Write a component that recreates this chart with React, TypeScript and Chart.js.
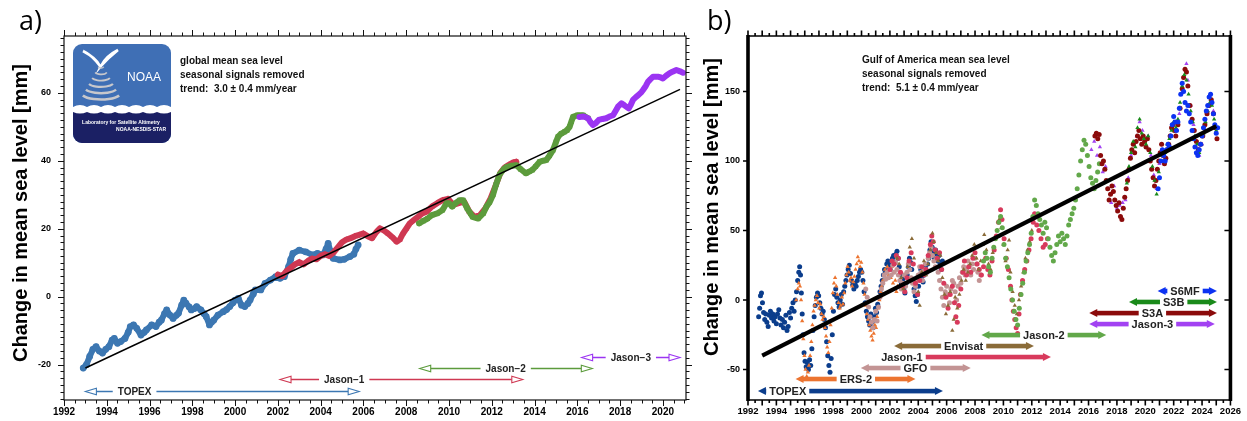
import React, { useEffect, useRef } from "react";
import { Chart, registerables } from "chart.js";
Chart.register(...registerables);

type P = [number, number];
const SANS = '"Liberation Sans", Arial, Helvetica, sans-serif';
const LABEL_FONT = '"Open Sans", "Noto Sans", sans-serif';

// ---------------- Panel a: global mean sea level ----------------
const A_X_MIN = 1992;
const A_X_MAX = 2021.08;
const A_Y_MIN = -30.4;
const A_Y_MAX = 76.7;
const A_X_TICKS = [1992, 1994, 1996, 1998, 2000, 2002, 2004, 2006, 2008, 2010, 2012, 2014, 2016, 2018, 2020];
const A_Y_TICKS = [-20, 0, 20, 40, 60];
const A_NOTES = ["global mean sea level", "seasonal signals removed", "trend:  3.0 \u00b1 0.4 mm/year"];

const A_TOPEX: P[] = [
  [1992.9, -21], [1993.05, -20], [1993.2, -17.6], [1993.35, -15.5], [1993.5, -14.7], [1993.65, -16],
  [1993.8, -16.6], [1993.95, -15.5], [1994.1, -14.7], [1994.25, -12.8], [1994.35, -12.3], [1994.5, -13.7],
  [1994.65, -13.2], [1994.85, -12.3], [1995.0, -10.5], [1995.1, -8.8], [1995.25, -8.3], [1995.4, -9.3],
  [1995.6, -11.3], [1995.75, -10.5], [1995.85, -9.8], [1996.1, -8.3], [1996.3, -8.8], [1996.45, -7.5],
  [1996.55, -6.9], [1996.7, -5], [1996.8, -3.9], [1996.95, -5.4], [1997.1, -6.4], [1997.25, -5.5],
  [1997.35, -4.9], [1997.5, -2.5], [1997.6, -1], [1997.7, -1.9], [1997.85, -3], [1997.95, -3.9],
  [1998.1, -3.5], [1998.2, -2.9], [1998.4, -3.9], [1998.55, -5], [1998.65, -5.9], [1998.8, -8.3],
  [1998.9, -7.5], [1999.0, -6.9], [1999.2, -5.4], [1999.45, -4.4], [1999.6, -3.8], [1999.75, -2.9],
  [1999.9, -1.8], [2000.0, -1], [2000.15, -0.5], [2000.3, -2.5], [2000.45, -2.9], [2000.6, -2],
  [2000.7, -1], [2000.85, 0.8], [2000.95, 2.0], [2001.2, 2], [2001.4, 3.9], [2001.65, 4.9],
  [2001.9, 5.9], [2002.1, 5.4], [2002.3, 5.9], [2002.5, 8.8], [2002.6, 11], [2002.7, 12.7],
  [2003.0, 13.7], [2003.3, 13.2], [2003.6, 12.3], [2003.85, 12.7], [2004.1, 12.3], [2004.25, 14],
  [2004.35, 15.7], [2004.45, 13.5], [2004.58, 11.3], [2004.9, 10.8], [2005.1, 11], [2005.37, 11.8],
  [2005.55, 12.5], [2005.65, 14], [2005.75, 15.2],
];
const A_JASON1: P[] = [
  [2002.0, 6.5], [2002.2, 6], [2002.4, 7.5], [2002.6, 8.5], [2002.8, 9.5], [2003.0, 10.2], [2003.2, 9.5],
  [2003.4, 10.5], [2003.6, 11.2], [2003.8, 11], [2004.0, 12], [2004.2, 12.5], [2004.4, 12], [2004.6, 13],
  [2004.8, 14.5], [2005.0, 16], [2005.2, 16.8], [2005.4, 17.2], [2005.6, 17.8], [2005.8, 18.2],
  [2006.0, 18.6], [2006.2, 17.8], [2006.4, 17.2], [2006.6, 19], [2006.77, 20.1], [2006.95, 19.5],
  [2007.15, 18.6], [2007.35, 17.5], [2007.55, 16.2], [2007.7, 16.8], [2007.85, 18.6], [2008.0, 20],
  [2008.17, 21.6], [2008.35, 22.5], [2008.55, 23.5], [2008.75, 24.5], [2008.95, 25], [2009.2, 26.5],
  [2009.45, 27.5], [2009.7, 28.4], [2009.95, 28.8], [2010.2, 27], [2010.45, 27.5], [2010.7, 28],
  [2010.95, 25], [2011.2, 23.5], [2011.45, 24], [2011.7, 26], [2011.95, 29], [2012.2, 33],
  [2012.4, 36.4], [2012.6, 38], [2012.8, 38.8], [2013.0, 39.5], [2013.15, 39.7],
];
const A_JASON2: P[] = [
  [2008.6, 21.6], [2008.8, 22.3], [2009.0, 23], [2009.2, 24], [2009.45, 24.5], [2009.7, 25.5],
  [2009.88, 27.5], [2010.0, 27.5], [2010.15, 26.5], [2010.3, 27.5], [2010.5, 28.4], [2010.66, 28.4],
  [2010.85, 26], [2011.0, 24.5], [2011.1, 23.5], [2011.36, 23], [2011.6, 24.5], [2011.75, 26.5],
  [2011.9, 27.8], [2012.06, 30], [2012.2, 33], [2012.37, 36], [2012.55, 37.5], [2012.7, 38.2],
  [2012.9, 38.5], [2013.15, 38.7], [2013.35, 37.5], [2013.6, 36.3], [2013.75, 36.8], [2013.9, 37.3],
  [2014.05, 38.3], [2014.24, 39.7], [2014.4, 40], [2014.55, 40.2], [2014.7, 41.5], [2014.86, 43.1],
  [2015.0, 45.5], [2015.1, 47.1], [2015.25, 48], [2015.4, 48.5], [2015.52, 49], [2015.64, 50],
  [2015.72, 51.5], [2015.8, 52.9], [2016.0, 53.4], [2016.27, 53.4], [2016.5, 52.5],
];
const A_JASON3: P[] = [
  [2016.1, 52.9], [2016.3, 53], [2016.5, 52.5], [2016.62, 51.3], [2016.73, 50.5], [2016.85, 51],
  [2017.0, 52], [2017.18, 52.3], [2017.35, 52.5], [2017.5, 53], [2017.67, 53.4], [2017.8, 54.8],
  [2017.9, 55.9], [2018.06, 56.9], [2018.2, 56.3], [2018.4, 55.4], [2018.5, 56.5], [2018.6, 57.9],
  [2018.75, 58.8], [2018.85, 59.3], [2019.0, 60.2], [2019.07, 60.8], [2019.2, 62], [2019.3, 63.2],
  [2019.42, 64], [2019.54, 64.7], [2019.67, 64.7], [2019.8, 64.7], [2019.9, 64.5], [2020.0, 64.2],
  [2020.15, 65], [2020.3, 65.7], [2020.45, 66.2], [2020.63, 66.7], [2020.8, 66.3], [2020.94, 65.9],
];
const A_TREND: P[] = [[1993.0, -21], [2020.8, 61]];

const A_MISSIONS = ["TOPEX", "Jason\u22121", "Jason\u22122", "Jason\u22123"];
const A_MISSION_START = [1993.0, 2002.1, 2008.63, 2016.2];
const A_MISSION_END = [2005.8, 2013.45, 2016.7, 2020.8];
const A_MISSION_LABEL_AT = [1995.3, 2005.1, 2012.65, 2018.5];
const A_MISSION_LEVEL = [-27.7, -24.2, -21, -17.7];
const A_COLORS = ["#3c77b2", "#cf3852", "#5c9b3c", "#9b34f2"];

// ---------------- Panel b: Gulf of America ----------------
const B_X_MIN = 1992;
const B_X_MAX = 2026;
const B_Y_MIN = -71.9;
const B_Y_MAX = 189.9;
const B_X_TICKS = [1992, 1994, 1996, 1998, 2000, 2002, 2004, 2006, 2008, 2010, 2012, 2014, 2016, 2018, 2020, 2022, 2024, 2026];
const B_Y_TICKS = [-50, 0, 50, 100, 150];
const B_NOTES = ["Gulf of America mean sea level", "seasonal signals removed", "trend:  5.1 \u00b1 0.4 mm/year"];

const B_TOPEX: P[] = [
  [1992.75, -12], [1992.82, -6], [1992.88, 3], [1992.95, 5], [1993.02, -2], [1993.1, -9], [1993.18, -14],
  [1993.25, -10], [1993.33, -16], [1993.42, -19], [1993.5, -11], [1993.58, -8], [1993.66, -13], [1993.75, -10],
  [1993.83, -15], [1993.92, -12], [1994.0, -17], [1994.08, -10], [1994.17, -7], [1994.25, -13], [1994.33, -18],
  [1994.42, -14], [1994.5, -20], [1994.58, -16], [1994.67, -11], [1994.75, -22], [1994.83, -19], [1994.92, -9],
  [1995.0, -13], [1995.08, -6], [1995.17, -2], [1995.25, -8], [1995.33, 0], [1995.42, 6], [1995.5, 14],
  [1995.58, 20], [1995.64, 24], [1995.7, 18], [1995.76, 5], [1995.82, -10], [1995.88, -25], [1995.95, -38],
  [1996.02, -44], [1996.1, -48], [1996.18, -45], [1996.26, -50], [1996.34, -43], [1996.42, -47], [1996.5, -35],
  [1996.58, -22], [1996.66, -12], [1996.74, -4], [1996.82, 2], [1996.9, 5], [1996.98, 3], [1997.06, -2],
  [1997.14, -6], [1997.22, -10], [1997.3, -8], [1997.38, -14], [1997.46, -20], [1997.54, -30], [1997.62, -40],
  [1997.7, -47], [1997.78, -52], [1997.86, -42], [1997.94, -25], [1998.02, -8], [1998.1, 4], [1998.18, 8],
  [1998.26, 2], [1998.34, -2], [1998.42, -5], [1998.5, 0], [1998.58, 4], [1998.66, -3], [1998.74, 6],
  [1998.82, 10], [1998.9, 14], [1998.98, 18], [1999.06, 22], [1999.14, 25], [1999.22, 19], [1999.3, 14],
  [1999.38, 11], [1999.46, 8], [1999.54, 12], [1999.62, 10], [1999.7, 14], [1999.78, 17], [1999.86, 20],
  [1999.94, 22], [2000.02, 20], [2000.1, 14], [2000.18, 6], [2000.26, -2], [2000.34, -8], [2000.42, -12],
  [2000.5, -15], [2000.58, -18], [2000.66, -10], [2000.74, -16], [2000.82, -20], [2000.9, -12], [2000.98, -6],
  [2001.06, -9], [2001.14, -3], [2001.22, 2], [2001.3, 6], [2001.38, 10], [2001.46, 14], [2001.54, 18],
  [2001.62, 22], [2001.7, 20], [2001.78, 26], [2001.86, 28], [2001.94, 24], [2002.02, 22], [2002.1, 26],
  [2002.18, 30], [2002.26, 32], [2002.34, 27], [2002.42, 33], [2002.5, 35], [2002.58, 30], [2002.66, 24],
  [2002.74, 18], [2002.82, 12], [2002.9, 15], [2002.98, 8], [2003.06, 5], [2003.14, 12], [2003.22, 18],
  [2003.3, 24], [2003.38, 30], [2003.46, 27], [2003.54, 22], [2003.62, 15], [2003.7, 8], [2003.78, 3],
  [2003.86, -1], [2003.94, 4], [2004.02, 10], [2004.1, 18], [2004.18, 22], [2004.26, 17], [2004.34, 13],
  [2004.42, 18], [2004.5, 24], [2004.58, 20], [2004.66, 26], [2004.74, 30], [2004.82, 36], [2004.9, 42],
  [2004.98, 38], [2005.06, 34], [2005.14, 30], [2005.22, 36], [2005.3, 33], [2005.38, 28], [2005.46, 32],
  [2005.54, 26], [2005.62, 22], [2005.7, 28],
];
const B_ERS2: P[] = [
  [1995.4, 0], [1995.5, 8], [1995.58, 12], [1995.66, 10], [1995.74, 0], [1995.82, -15], [1995.9, -28],
  [1995.98, -40], [1996.06, -50], [1996.14, -55], [1996.22, -52], [1996.3, -47], [1996.38, -40], [1996.46, -30],
  [1996.54, -18], [1996.62, -8], [1996.7, -4], [1996.78, 0], [1996.86, 3], [1996.94, -2], [1997.02, -6],
  [1997.1, -3], [1997.18, -10], [1997.26, -14], [1997.34, -12], [1997.42, -20], [1997.5, -26], [1997.58, -34],
  [1997.66, -38], [1997.74, -30], [1997.82, -18], [1997.9, -6], [1997.98, 5], [1998.06, 12], [1998.14, 16],
  [1998.22, 10], [1998.3, 4], [1998.38, -2], [1998.46, -6], [1998.54, -4], [1998.62, 2], [1998.7, -3],
  [1998.78, 5], [1998.86, 12], [1998.94, 18], [1999.02, 24], [1999.1, 20], [1999.18, 14], [1999.26, 16],
  [1999.34, 10], [1999.42, 13], [1999.5, 17], [1999.58, 22], [1999.66, 26], [1999.74, 31], [1999.82, 28],
  [1999.9, 24], [1999.98, 27], [2000.06, 20], [2000.14, 12], [2000.22, 4], [2000.3, -4], [2000.38, -10],
  [2000.46, -14], [2000.54, -18], [2000.62, -22], [2000.7, -26], [2000.78, -29], [2000.86, -24], [2000.94, -18],
  [2001.02, -20], [2001.1, -12], [2001.18, -6], [2001.26, 0], [2001.34, 6], [2001.42, 10], [2001.5, 14],
  [2001.58, 18], [2001.66, 22], [2001.74, 20], [2001.82, 24], [2001.9, 18], [2001.98, 22], [2002.06, 16],
  [2002.14, 24], [2002.22, 12], [2002.3, 8], [2002.38, 14], [2002.46, 6], [2002.54, 10],
];
const B_GFO: P[] = [
  [2000.3, 8], [2000.4, 2], [2000.5, -5], [2000.6, -12], [2000.7, -16], [2000.8, -20], [2000.9, -14],
  [2001.0, -8], [2001.1, -15], [2001.2, -5], [2001.3, 2], [2001.4, 8], [2001.5, 12], [2001.6, 18],
  [2001.7, 15], [2001.8, 20], [2001.9, 16], [2002.0, 22], [2002.1, 18], [2002.2, 25], [2002.3, 20],
  [2002.4, 27], [2002.5, 22], [2002.6, 18], [2002.7, 14], [2002.8, 8], [2002.9, 12], [2003.0, 18],
  [2003.1, 10], [2003.2, 20], [2003.3, 26], [2003.4, 22], [2003.5, 16], [2003.6, 12], [2003.7, 6],
  [2003.8, 10], [2003.9, 14], [2004.0, 18], [2004.1, 24], [2004.2, 20], [2004.3, 14], [2004.4, 22],
  [2004.5, 26], [2004.6, 20], [2004.7, 30], [2004.8, 34], [2004.9, 38], [2005.0, 32], [2005.1, 28],
  [2005.2, 24], [2005.3, 30], [2005.4, 20], [2005.5, 14], [2005.6, 8], [2005.7, 2], [2005.8, -4],
  [2005.9, 6], [2006.0, 10], [2006.1, 4], [2006.2, -2], [2006.3, 8], [2006.4, 14], [2006.5, 12],
  [2006.6, 6], [2006.7, 0], [2006.8, 10], [2006.9, 16], [2007.0, 12], [2007.1, 20], [2007.2, 24],
  [2007.3, 18], [2007.4, 22], [2007.5, 28], [2007.6, 24], [2007.7, 18], [2007.8, 26], [2007.9, 22],
  [2008.0, 30], [2008.1, 26], [2008.2, 20], [2008.3, 14], [2008.4, 18],
];
const B_JASON1: P[] = [
  [2002.0, 22], [2002.15, 28], [2002.3, 26], [2002.45, 32], [2002.6, 30], [2002.75, 20], [2002.9, 10],
  [2003.05, 6], [2003.2, 16], [2003.35, 28], [2003.5, 34], [2003.65, 26], [2003.8, 12], [2003.95, 4],
  [2004.1, 14], [2004.25, 24], [2004.4, 18], [2004.55, 22], [2004.7, 32], [2004.85, 40], [2004.95, 46],
  [2005.05, 42], [2005.2, 36], [2005.35, 30], [2005.5, 34], [2005.65, 22], [2005.8, 12], [2005.95, 2],
  [2006.1, -6], [2006.25, 4], [2006.4, 10], [2006.55, -2], [2006.65, -12], [2006.75, -16], [2006.85, -4],
  [2007.0, 8], [2007.15, 20], [2007.25, 28], [2007.4, 18], [2007.55, 24], [2007.7, 20], [2007.85, 30],
  [2008.0, 34], [2008.15, 26], [2008.3, 22], [2008.45, 18], [2008.6, 24], [2008.75, 30], [2008.9, 22],
  [2009.05, 18], [2009.2, 28], [2009.35, 36], [2009.5, 46], [2009.65, 56], [2009.8, 65], [2009.9, 58],
  [2010.05, 44], [2010.2, 30], [2010.35, 22], [2010.5, 10], [2010.6, 0], [2010.7, -8], [2010.8, -14],
  [2010.9, -20], [2011.0, -24], [2011.1, -10], [2011.2, 4], [2011.35, 14], [2011.5, 22], [2011.65, 28],
  [2011.8, 36], [2011.95, 44], [2012.1, 56], [2012.2, 62], [2012.35, 54], [2012.5, 50], [2012.65, 44],
  [2012.8, 38], [2012.95, 40], [2013.1, 44],
];
const B_ENVISAT: P[] = [
  [2002.5, 30], [2002.65, 26], [2002.8, 16], [2002.95, 8], [2003.1, 12], [2003.25, 24], [2003.4, 38],
  [2003.55, 44], [2003.7, 30], [2003.85, 16], [2004.0, 6], [2004.1, -4], [2004.25, 20], [2004.4, 28],
  [2004.55, 18], [2004.7, 26], [2004.85, 36], [2005.0, 48], [2005.1, 42], [2005.25, 34], [2005.4, 28],
  [2005.55, 32], [2005.7, 16], [2005.85, 4], [2005.95, -10], [2006.1, -4], [2006.25, 6], [2006.4, -22],
  [2006.5, -14], [2006.6, 2], [2006.75, -6], [2006.9, 4], [2007.05, 14], [2007.2, 22], [2007.35, 14],
  [2007.5, 20], [2007.65, 26], [2007.8, 32], [2007.95, 40], [2008.1, 30], [2008.25, 22], [2008.4, 28],
  [2008.55, 40], [2008.65, 47], [2008.8, 36], [2008.95, 26], [2009.1, 22], [2009.25, 34], [2009.4, 44],
  [2009.55, 50], [2009.7, 58], [2009.85, 52], [2010.0, 40], [2010.15, 28], [2010.3, 36], [2010.4, 43],
  [2010.5, 20], [2010.65, 6], [2010.8, -4], [2010.95, -10], [2011.1, 0], [2011.25, 10], [2011.4, 20],
  [2011.55, 30], [2011.7, 36], [2011.85, 42], [2012.0, 50],
];
const B_JASON2: P[] = [
  [2008.6, 28], [2008.72, 34], [2008.84, 30], [2008.96, 24], [2009.08, 20], [2009.2, 30], [2009.32, 38],
  [2009.44, 44], [2009.56, 50], [2009.68, 56], [2009.8, 60], [2009.92, 52], [2010.04, 40], [2010.16, 30],
  [2010.28, 24], [2010.4, 16], [2010.52, 8], [2010.64, 0], [2010.76, -8], [2010.88, -14], [2011.0, -18],
  [2011.12, -6], [2011.24, 4], [2011.36, 12], [2011.48, 20], [2011.6, 28], [2011.72, 34], [2011.84, 40],
  [2011.96, 48], [2012.08, 60], [2012.2, 72], [2012.32, 68], [2012.44, 62], [2012.56, 58], [2012.68, 54],
  [2012.8, 48], [2012.92, 56], [2013.04, 52], [2013.16, 44], [2013.28, 38], [2013.4, 32], [2013.52, 28],
  [2013.64, 34], [2013.76, 40], [2013.88, 46], [2014.0, 42], [2014.12, 48], [2014.24, 44], [2014.36, 40],
  [2014.48, 46], [2014.6, 54], [2014.72, 58], [2014.84, 62], [2014.96, 66], [2015.08, 72], [2015.2, 80],
  [2015.32, 90], [2015.44, 100], [2015.56, 108], [2015.68, 115], [2015.8, 112], [2015.92, 104],
  [2016.04, 96], [2016.16, 88], [2016.28, 84], [2016.4, 80], [2016.52, 86], [2016.64, 92], [2016.76, 98],
];
const B_JASON3: P[] = [
  [2016.2, 108], [2016.4, 114], [2016.6, 104], [2016.8, 110], [2017.0, 92], [2017.2, 96], [2017.4, 80],
  [2017.6, 70], [2017.8, 82], [2018.0, 66], [2018.2, 68], [2018.4, 70], [2018.6, 72], [2018.8, 88],
  [2019.0, 104], [2019.2, 112], [2019.4, 118], [2019.6, 128], [2019.8, 122], [2020.0, 116], [2020.2, 118],
  [2020.4, 104], [2020.6, 90], [2020.8, 80], [2021.0, 98], [2021.2, 108], [2021.4, 102], [2021.6, 108],
  [2021.8, 118], [2022.0, 128], [2022.2, 122], [2022.4, 134], [2022.6, 152], [2022.8, 166], [2022.9, 170],
  [2023.0, 158], [2023.2, 140], [2023.4, 126], [2023.6, 110], [2023.8, 104], [2024.0, 112], [2024.2, 122],
  [2024.4, 136], [2024.6, 144], [2024.8, 136], [2025.0, 120],
];
const B_S3A: P[] = [
  [2016.45, 118], [2016.55, 120], [2016.65, 116], [2016.75, 119], [2016.85, 104], [2016.95, 98],
  [2017.05, 100], [2017.15, 94], [2017.25, 86], [2017.35, 80], [2017.45, 72], [2017.55, 76], [2017.65, 82],
  [2017.75, 78], [2017.85, 72], [2017.95, 68], [2018.05, 64], [2018.15, 70], [2018.25, 60], [2018.35, 58],
  [2018.45, 66], [2018.55, 74], [2018.65, 80], [2018.75, 86], [2018.85, 94], [2018.95, 102], [2019.05, 108],
  [2019.15, 112], [2019.25, 106], [2019.35, 114], [2019.45, 118], [2019.55, 122], [2019.65, 116],
  [2019.75, 112], [2019.85, 118], [2019.95, 114], [2020.05, 110], [2020.15, 116], [2020.25, 108],
  [2020.35, 100], [2020.45, 94], [2020.55, 88], [2020.65, 82], [2020.75, 86], [2020.85, 94], [2020.95, 100],
  [2021.05, 106], [2021.15, 112], [2021.25, 104], [2021.35, 98], [2021.45, 102], [2021.55, 108],
  [2021.65, 112], [2021.75, 118], [2021.85, 124], [2021.95, 126], [2022.05, 122], [2022.15, 118],
  [2022.3, 126], [2022.45, 138], [2022.6, 152], [2022.7, 160], [2022.8, 166], [2022.9, 164], [2023.0, 154],
  [2023.15, 140], [2023.3, 130], [2023.45, 122], [2023.6, 114], [2023.75, 108], [2023.9, 112],
  [2024.05, 118], [2024.2, 126], [2024.35, 134], [2024.5, 140], [2024.65, 144], [2024.8, 134],
  [2024.95, 124], [2025.05, 116],
];
const B_S3B: P[] = [
  [2018.7, 84], [2018.85, 96], [2019.0, 106], [2019.15, 114], [2019.3, 110], [2019.45, 124], [2019.6, 130],
  [2019.75, 120], [2019.9, 116], [2020.05, 112], [2020.2, 118], [2020.35, 106], [2020.5, 96], [2020.65, 86],
  [2020.8, 76], [2020.95, 92], [2021.1, 104], [2021.25, 100], [2021.4, 106], [2021.55, 112], [2021.7, 116],
  [2021.85, 122], [2022.0, 128], [2022.15, 124], [2022.3, 130], [2022.45, 142], [2022.6, 154],
  [2022.75, 162], [2022.9, 158], [2023.05, 148], [2023.2, 136], [2023.35, 128], [2023.5, 118],
  [2023.65, 112], [2023.8, 106], [2023.95, 112], [2024.1, 120], [2024.25, 128], [2024.4, 136],
  [2024.55, 142], [2024.7, 140], [2024.85, 130], [2025.0, 122],
];
const B_S6MF: P[] = [
  [2020.9, 80], [2021.0, 88], [2021.1, 100], [2021.2, 108], [2021.3, 104], [2021.4, 100], [2021.5, 108],
  [2021.6, 112], [2021.7, 110], [2021.8, 118], [2021.9, 126], [2022.0, 132], [2022.1, 128], [2022.2, 122],
  [2022.3, 128], [2022.4, 138], [2022.5, 148], [2022.6, 156], [2022.7, 150], [2022.8, 142], [2022.9, 136],
  [2023.0, 140], [2023.1, 134], [2023.2, 128], [2023.3, 122], [2023.4, 116], [2023.5, 110], [2023.6, 106],
  [2023.7, 104], [2023.8, 108], [2023.9, 112], [2024.0, 118], [2024.1, 124], [2024.2, 130], [2024.3, 136],
  [2024.4, 140], [2024.5, 146], [2024.6, 148], [2024.7, 142], [2024.8, 134], [2024.9, 126], [2025.0, 120],
  [2025.1, 124],
];
const B_TREND: P[] = [[1993.0, -40], [2025.0, 125]];

const B_MISSIONS = ["TOPEX", "ERS-2", "GFO", "Jason-1", "Envisat", "Jason-2", "Jason-3", "S3A", "S3B", "S6MF"];
const B_SERIES = [B_TOPEX, B_ERS2, B_GFO, B_JASON1, B_ENVISAT, B_JASON2, B_JASON3, B_S3A, B_S3B, B_S6MF];
const B_COLORS = ["#0b3d8c", "#ec7430", "#c39494", "#d83a5c", "#8a6b38", "#62a84a", "#a242f2", "#8b0b0b", "#1a8a1a", "#0c32f2"];
const B_MARKERS = ["circle", "triangle", "circle", "circle", "triangle", "circle", "triangle", "circle", "triangle", "circle"];
const B_MISSION_START = [1992.7, 1995.35, 1999.95, 2002.0, 2002.3, 2008.45, 2016.05, 2016.05, 2018.85, 2020.87];
const B_MISSION_END = [2005.74, 2003.8, 2007.7, 2013.35, 2012.15, 2017.25, 2024.9, 2025.05, 2025.05, 2025.05];
const B_MISSION_LABEL_AT = [1994.8, 1999.6, 2003.8, 2002.85, 2007.2, 2012.85, 2020.5, 2020.5, 2022.0, 2022.8];
const B_MISSION_LEVEL = [-65.5, -56.8, -48.9, -41, -33.1, -25.2, -17.3, -9.4, -1.4, 6.5];

const xy = (arr: P[]) => arr.map(([x, y]) => ({ x, y }));

// ---------------- drawing helpers ----------------
function drawYTitle(ctx: CanvasRenderingContext2D, x: number, y: number) {
  ctx.save();
  ctx.translate(x, y);
  ctx.rotate(-Math.PI / 2);
  ctx.font = `bold 20px ${SANS}`;
  ctx.fillStyle = "#000";
  ctx.textAlign = "center";
  ctx.textBaseline = "middle";
  ctx.fillText("Change in mean sea level [mm]", 0, 0);
  ctx.restore();
}

function drawLogo(ctx: CanvasRenderingContext2D) {
  const x = 73, y = 44, w = 98, h = 99;
  ctx.save();
  ctx.beginPath();
  (ctx as any).roundRect(x, y, w, h, 9);
  ctx.clip();
  ctx.fillStyle = "#3f6fb5";
  ctx.fillRect(x, y, w, h);
  ctx.fillStyle = "#1b2064";
  ctx.fillRect(x, y + 66, w, h - 66);
  ctx.fillStyle = "#ffffff";
  ctx.beginPath();
  ctx.moveTo(x, y + 63);
  for (let i = 0; i < 7; i++) {
    const cx = x + i * 14;
    ctx.quadraticCurveTo(cx + 7, y + 59, cx + 14, y + 63);
  }
  ctx.lineTo(x + w, y + 68);
  for (let i = 6; i >= 0; i--) {
    const cx = x + i * 14;
    ctx.quadraticCurveTo(cx + 7, y + 71, cx, y + 68);
  }
  ctx.closePath();
  ctx.fill();
  ctx.beginPath();
  ctx.moveTo(83, 51);
  ctx.quadraticCurveTo(92, 55, 100, 66);
  ctx.quadraticCurveTo(96, 58, 83, 51);
  ctx.moveTo(118, 50);
  ctx.quadraticCurveTo(106, 56, 101, 66);
  ctx.quadraticCurveTo(108, 58, 118, 50);
  ctx.lineWidth = 2.6;
  ctx.strokeStyle = "#ffffff";
  ctx.stroke();
  ctx.fill();
  ctx.strokeStyle = "#c8c8cc";
  for (let i = 0; i < 6; i++) {
    ctx.lineWidth = 1.4 + i * 0.25;
    ctx.beginPath();
    ctx.ellipse(101, 66 + i * 5.4, 3 + i * 3.3, 2 + i * 0.9, 0, 0.12 * Math.PI, 0.88 * Math.PI);
    ctx.stroke();
  }
  ctx.fillStyle = "#ffffff";
  ctx.textAlign = "center";
  ctx.textBaseline = "middle";
  ctx.font = `12px ${SANS}`;
  ctx.fillText("NOAA", 144, 78);
  ctx.font = `bold 5px ${SANS}`;
  ctx.fillText("Laboratory for Satellite Altimetry", 121, 123);
  ctx.textAlign = "right";
  ctx.fillText("NOAA-NESDIS-STAR", 166, 130);
  ctx.restore();
}

function drawNotes(ctx: CanvasRenderingContext2D, lines: string[], x: number, y0: number) {
  ctx.save();
  ctx.font = `bold 10px ${SANS}`;
  ctx.fillStyle = "#111";
  ctx.textAlign = "left";
  ctx.textBaseline = "middle";
  lines.forEach((t, i) => ctx.fillText(t, x, y0 + i * 14.3));
  ctx.restore();
}

function drawPanelLabel(ctx: CanvasRenderingContext2D, t: string, x: number, y: number) {
  ctx.save();
  ctx.font = `27px ${LABEL_FONT}`;
  ctx.fillStyle = "#000";
  ctx.textAlign = "left";
  ctx.textBaseline = "alphabetic";
  ctx.fillText(t, x, y);
  ctx.restore();
}

// ---------------- plugins ----------------
const decorA = {
  id: "decorA",
  afterDraw(chart: any) {
    const { ctx, chartArea: a, scales } = chart;
    const sx = scales.x, sy = scales.y;
    ctx.save();
    ctx.strokeStyle = "#111";
    ctx.lineWidth = 1.2;
    ctx.strokeRect(a.left, a.top, a.right - a.left, a.bottom - a.top);
    ctx.lineWidth = 1;
    for (let v = A_X_MIN; v <= A_X_MAX + 1e-6; v += 0.5) {
      const px = Math.round(sx.getPixelForValue(v)) + 0.5;
      const major = Math.abs(v % 2) < 1e-6;
      const L = major ? 6 : 3.5;
      ctx.beginPath();
      ctx.moveTo(px, a.bottom); ctx.lineTo(px, a.bottom + L);
      ctx.moveTo(px, a.top); ctx.lineTo(px, a.top - L);
      ctx.stroke();
    }
    for (let v = -30; v <= A_Y_MAX; v += 2) {
      const py = Math.round(sy.getPixelForValue(v)) + 0.5;
      const major = Math.abs(v % 20) < 1e-6;
      const L = major ? 6 : 3.5;
      ctx.beginPath();
      ctx.moveTo(a.left, py); ctx.lineTo(a.left - L, py);
      ctx.moveTo(a.right, py); ctx.lineTo(a.right + L, py);
      ctx.stroke();
    }
    ctx.font = `bold 10px ${SANS}`;
    ctx.textBaseline = "middle";
    ctx.textAlign = "center";
    A_MISSIONS.forEach((name, i) => {
      const color = A_COLORS[i];
      const y = Math.round(sy.getPixelForValue(A_MISSION_LEVEL[i])) + 0.5;
      const x0 = sx.getPixelForValue(A_MISSION_START[i]);
      const x1 = sx.getPixelForValue(A_MISSION_END[i]);
      const xc = sx.getPixelForValue(A_MISSION_LABEL_AT[i]);
      const tw = ctx.measureText(name).width;
      const g0 = xc - tw / 2 - 5, g1 = xc + tw / 2 + 5;
      const HL = 11, HH = 3.2;
      ctx.strokeStyle = color;
      ctx.lineWidth = 1.6;
      ctx.beginPath();
      ctx.moveTo(x0 + HL, y); ctx.lineTo(g0, y);
      ctx.moveTo(g1, y); ctx.lineTo(x1 - HL, y);
      ctx.stroke();
      ctx.lineWidth = 1.1;
      [[x0, -1], [x1, 1]].forEach(([tip, dir]) => {
        ctx.beginPath();
        ctx.moveTo(tip, y);
        ctx.lineTo(tip - dir * HL, y - HH);
        ctx.lineTo(tip - dir * HL, y + HH);
        ctx.closePath();
        ctx.fillStyle = "#fff";
        ctx.fill();
        ctx.stroke();
      });
      ctx.fillStyle = "#222";
      ctx.fillText(name, xc, y + 0.5);
    });
    ctx.restore();
    drawLogo(ctx);
    drawNotes(ctx, A_NOTES, 180, 61);
    drawYTitle(ctx, 21, 213);
    drawPanelLabel(ctx, "a)", 19, 30);
  },
};

const decorB = {
  id: "decorB",
  afterDraw(chart: any) {
    const { ctx, chartArea: a, scales } = chart;
    const sx = scales.x, sy = scales.y;
    ctx.save();
    ctx.strokeStyle = "#000";
    ctx.lineWidth = 1.6;
    ctx.beginPath();
    ctx.moveTo(a.left, a.top); ctx.lineTo(a.right, a.top);
    ctx.moveTo(a.left, a.bottom); ctx.lineTo(a.right, a.bottom);
    ctx.stroke();
    ctx.lineWidth = 3.6;
    ctx.beginPath();
    ctx.moveTo(a.left, a.top - 1); ctx.lineTo(a.left, a.bottom + 1);
    ctx.moveTo(a.right, a.top - 1); ctx.lineTo(a.right, a.bottom + 1);
    ctx.stroke();
    ctx.lineWidth = 1.6;
    for (let k = 0; k <= (B_X_MAX - B_X_MIN) * 2; k++) {
      const v = B_X_MIN + k * 0.5;
      const px = sx.getPixelForValue(v);
      const L = k % 2 === 0 ? 5.5 : 3;
      ctx.beginPath();
      ctx.moveTo(px, a.bottom); ctx.lineTo(px, a.bottom + L);
      ctx.moveTo(px, a.top); ctx.lineTo(px, a.top - L);
      ctx.stroke();
    }
    ctx.lineWidth = 1.4;
    B_Y_TICKS.forEach((v) => {
      const py = sy.getPixelForValue(v);
      ctx.beginPath();
      ctx.moveTo(a.left, py); ctx.lineTo(a.left - 5, py);
      ctx.moveTo(a.right, py); ctx.lineTo(a.right - 6, py);
      ctx.stroke();
    });
    ctx.font = `bold 11px ${SANS}`;
    ctx.textBaseline = "middle";
    ctx.textAlign = "center";
    B_MISSIONS.forEach((name, i) => {
      const color = B_COLORS[i];
      const y = sy.getPixelForValue(B_MISSION_LEVEL[i]);
      const x0 = sx.getPixelForValue(B_MISSION_START[i]);
      const x1 = sx.getPixelForValue(B_MISSION_END[i]);
      const xc = sx.getPixelForValue(B_MISSION_LABEL_AT[i]);
      const tw = ctx.measureText(name).width;
      const g0 = xc - tw / 2 - 3, g1 = xc + tw / 2 + 3;
      const HL = 8, HH = 4;
      ctx.fillStyle = color;
      if (g0 - x0 > 1) {
        ctx.fillRect(x0 + HL - 1, y - 2.3, Math.max(0, g0 - x0 - HL + 1), 4.6);
        ctx.beginPath();
        ctx.moveTo(x0, y); ctx.lineTo(x0 + HL, y - HH); ctx.lineTo(x0 + HL, y + HH); ctx.closePath();
        ctx.fill();
      }
      ctx.fillRect(g1, y - 2.3, x1 - HL + 1 - g1, 4.6);
      ctx.beginPath();
      ctx.moveTo(x1, y); ctx.lineTo(x1 - HL, y - HH); ctx.lineTo(x1 - HL, y + HH); ctx.closePath();
      ctx.fill();
      ctx.fillStyle = "#222";
      ctx.fillText(name, xc, y + 0.5);
    });
    ctx.restore();
    drawNotes(ctx, B_NOTES, 166, 60);
    drawYTitle(ctx, 16, 207);
    drawPanelLabel(ctx, "b)", 11, 30);
  },
};

// ---------------- configs ----------------
function tickFont(size: number) {
  return { family: SANS, size, weight: "bold" as const };
}

function configA(): any {
  const line = (label: string, data: P[], color: string, style: string, order: number) => ({
    label, data: xy(data), borderColor: color, backgroundColor: color, borderWidth: 6,
    borderJoinStyle: "round", borderCapStyle: "round",
    pointRadius: 3.4, pointStyle: style, pointBorderWidth: 0, tension: 0, order,
  });
  return {
    type: "line",
    data: {
      datasets: [
        { label: "trend", data: xy(A_TREND), borderColor: "#000", borderWidth: 1.5, pointRadius: 0, order: 0 },
        line("Jason-3", A_JASON3, A_COLORS[3], "star", 1),
        line("Jason-2", A_JASON2, A_COLORS[2], "rect", 2),
        line("Jason-1", A_JASON1, A_COLORS[1], "triangle", 3),
        line("TOPEX", A_TOPEX, A_COLORS[0], "circle", 4),
      ],
    },
    options: {
      animation: false, responsive: false, maintainAspectRatio: false,
      layout: { padding: { left: 0, right: 10, top: 36, bottom: 0 } },
      plugins: { legend: { display: false }, tooltip: { enabled: false } },
      scales: {
        x: {
          type: "linear", min: A_X_MIN, max: A_X_MAX,
          afterFit: (s: any) => { s.height = 21; },
          afterBuildTicks: (s: any) => { s.ticks = A_X_TICKS.map((value) => ({ value })); },
          grid: { display: false, drawTicks: false }, border: { display: false },
          ticks: { padding: 6, font: tickFont(10), color: "#000", maxRotation: 0, autoSkip: false, callback: (v: any) => String(v) },
        },
        y: {
          type: "linear", min: A_Y_MIN, max: A_Y_MAX,
          afterFit: (s: any) => { s.width = 64; },
          afterBuildTicks: (s: any) => { s.ticks = A_Y_TICKS.map((value) => ({ value })); },
          grid: { display: false, drawTicks: false }, border: { display: false },
          ticks: { padding: 13, font: tickFont(9), color: "#000", callback: (v: any) => String(v) },
        },
      },
    },
    plugins: [decorA],
  };
}

function configB(): any {
  const datasets: any[] = [
    { label: "trend", data: xy(B_TREND), borderColor: "#000", borderWidth: 4.2, pointRadius: 0, order: 0 },
  ];
  B_MISSIONS.forEach((name, i) => {
    datasets.push({
      label: name, data: xy(B_SERIES[i]), showLine: false, pointRadius: 2.5,
      pointStyle: B_MARKERS[i], backgroundColor: B_COLORS[i], borderColor: B_COLORS[i],
      pointBorderWidth: 0, order: 100 - i,
    });
  });
  return {
    type: "line",
    data: { datasets },
    options: {
      animation: false, responsive: false, maintainAspectRatio: false,
      layout: { padding: { left: 0, right: 12, top: 36, bottom: 0 } },
      plugins: { legend: { display: false }, tooltip: { enabled: false } },
      scales: {
        x: {
          type: "linear", min: B_X_MIN, max: B_X_MAX,
          afterFit: (s: any) => { s.height = 21; },
          afterBuildTicks: (s: any) => { s.ticks = B_X_TICKS.map((value) => ({ value })); },
          grid: { display: false, drawTicks: false }, border: { display: false },
          ticks: { padding: 6, font: tickFont(9.5), color: "#000", maxRotation: 0, autoSkip: false, callback: (v: any) => String(v) },
        },
        y: {
          type: "linear", min: B_Y_MIN, max: B_Y_MAX,
          afterFit: (s: any) => { s.width = 52; },
          afterBuildTicks: (s: any) => { s.ticks = B_Y_TICKS.map((value) => ({ value })); },
          grid: { display: false, drawTicks: false }, border: { display: false },
          ticks: { padding: 8, font: tickFont(9), color: "#000", callback: (v: any) => String(v) },
        },
      },
    },
    plugins: [decorB],
  };
}

function Panel({ left, width, make }: { left: number; width: number; make: () => any }) {
  const ref = useRef<HTMLCanvasElement | null>(null);
  useEffect(() => {
    if (!ref.current) return;
    const chart = new Chart(ref.current, make());
    return () => chart.destroy();
  }, []);
  return (
    <canvas
      ref={ref}
      width={width}
      height={421}
      style={{ position: "absolute", left, top: 0, width, height: 421 }}
    />
  );
}

export default function App() {
  useEffect(() => {
    document.body.style.margin = "0";
    document.body.style.background = "#fff";
  }, []);
  return (
    <div style={{ position: "absolute", left: 0, top: 0, width: 1247, height: 421, background: "#fff", overflow: "hidden" }}>
      <Panel left={0} width={696} make={configA} />
      <Panel left={696} width={551} make={configB} />
    </div>
  );
}
